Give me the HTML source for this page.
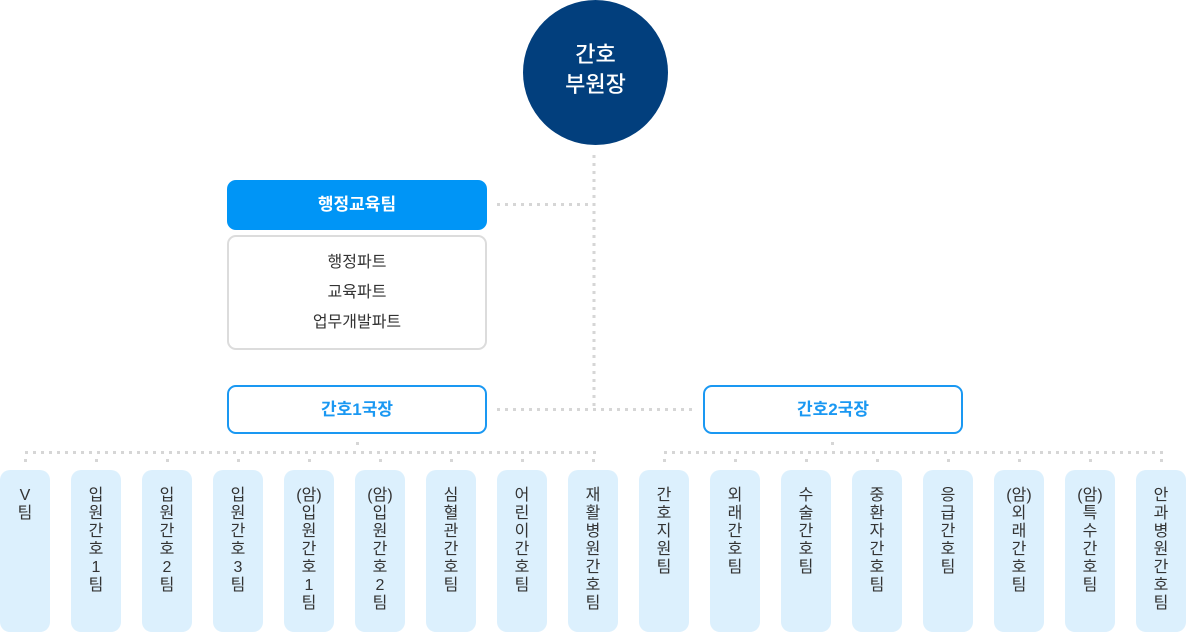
<!DOCTYPE html>
<html>
<head>
<meta charset="utf-8">
<style>
  html,body{margin:0;padding:0;background:#fff;}
  body{width:1186px;height:632px;position:relative;overflow:hidden;font-family:"Liberation Sans","Noto Sans CJK KR",sans-serif;}
  .abs{position:absolute;}
  .circle{left:523px;top:0px;width:145px;height:145px;border-radius:50%;background:#023f7d;color:#fff;text-align:center;font-size:22px;line-height:30px;font-weight:500;}
  .circle div{padding-top:40px;}
  .admin{left:227px;top:180px;width:260px;height:50px;border-radius:9px;background:#0095f6;color:#fff;font-weight:bold;font-size:17px;line-height:50px;text-align:center;}
  .sub{left:227px;top:235px;width:256px;height:111px;border:2px solid #dcdcdc;border-radius:9px;text-align:center;color:#333;font-size:16px;line-height:30px;}
  .sub div{padding-top:11px;}
  .dir{top:385px;width:256px;height:45px;border:2px solid #1a98f2;border-radius:9px;color:#1a98f2;font-weight:bold;font-size:17px;line-height:45px;text-align:center;background:#fff;}
  .tile{top:470px;width:50px;height:162px;border-radius:10px;background:#dcf0fd;color:#333;font-size:16px;line-height:18px;text-align:center;}
  .tile div{padding-top:17px;}
  svg{position:absolute;left:0;top:0;}
</style>
</head>
<body>
<svg width="1186" height="632">
  <g stroke="#d6d6d6" stroke-width="3" stroke-dasharray="3 5" fill="none">
    <line x1="594" y1="155" x2="594" y2="411"/>
    <line x1="497" y1="204.5" x2="592" y2="204.5"/>
    <line x1="497" y1="409.5" x2="693" y2="409.5"/>
    <line x1="25" y1="452.5" x2="596" y2="452.5"/>
    <line x1="664" y1="452.5" x2="1165" y2="452.5"/>
  </g>
  <g fill="#d6d6d6">
    <rect x="356" y="442" width="3" height="3"/>
    <rect x="831" y="442" width="3" height="3"/>
    <rect x="24" y="459" width="3" height="3"/>
    <rect x="95" y="459" width="3" height="3"/>
    <rect x="166" y="459" width="3" height="3"/>
    <rect x="237" y="459" width="3" height="3"/>
    <rect x="308" y="459" width="3" height="3"/>
    <rect x="379" y="459" width="3" height="3"/>
    <rect x="450" y="459" width="3" height="3"/>
    <rect x="521" y="459" width="3" height="3"/>
    <rect x="592" y="459" width="3" height="3"/>
    <rect x="663" y="459" width="3" height="3"/>
    <rect x="734" y="459" width="3" height="3"/>
    <rect x="805" y="459" width="3" height="3"/>
    <rect x="876" y="459" width="3" height="3"/>
    <rect x="947" y="459" width="3" height="3"/>
    <rect x="1018" y="459" width="3" height="3"/>
    <rect x="1089" y="459" width="3" height="3"/>
    <rect x="1160" y="459" width="3" height="3"/>
  </g>
</svg>

<div class="abs circle"><div>간호<br>부원장</div></div>

<div class="abs admin">행정교육팀</div>
<div class="abs sub"><div>행정파트<br>교육파트<br>업무개발파트</div></div>

<div class="abs dir" style="left:227px;">간호1국장</div>
<div class="abs dir" style="left:703px;">간호2국장</div>

<div class="abs tile" style="left:0px;"><div>V<br>팀</div></div>
<div class="abs tile" style="left:71px;"><div>입<br>원<br>간<br>호<br>1<br>팀</div></div>
<div class="abs tile" style="left:142px;"><div>입<br>원<br>간<br>호<br>2<br>팀</div></div>
<div class="abs tile" style="left:213px;"><div>입<br>원<br>간<br>호<br>3<br>팀</div></div>
<div class="abs tile" style="left:284px;"><div>(암)<br>입<br>원<br>간<br>호<br>1<br>팀</div></div>
<div class="abs tile" style="left:355px;"><div>(암)<br>입<br>원<br>간<br>호<br>2<br>팀</div></div>
<div class="abs tile" style="left:426px;"><div>심<br>혈<br>관<br>간<br>호<br>팀</div></div>
<div class="abs tile" style="left:497px;"><div>어<br>린<br>이<br>간<br>호<br>팀</div></div>
<div class="abs tile" style="left:568px;"><div>재<br>활<br>병<br>원<br>간<br>호<br>팀</div></div>
<div class="abs tile" style="left:639px;"><div>간<br>호<br>지<br>원<br>팀</div></div>
<div class="abs tile" style="left:710px;"><div>외<br>래<br>간<br>호<br>팀</div></div>
<div class="abs tile" style="left:781px;"><div>수<br>술<br>간<br>호<br>팀</div></div>
<div class="abs tile" style="left:852px;"><div>중<br>환<br>자<br>간<br>호<br>팀</div></div>
<div class="abs tile" style="left:923px;"><div>응<br>급<br>간<br>호<br>팀</div></div>
<div class="abs tile" style="left:994px;"><div>(암)<br>외<br>래<br>간<br>호<br>팀</div></div>
<div class="abs tile" style="left:1065px;"><div>(암)<br>특<br>수<br>간<br>호<br>팀</div></div>
<div class="abs tile" style="left:1136px;"><div>안<br>과<br>병<br>원<br>간<br>호<br>팀</div></div>
</body>
</html>
